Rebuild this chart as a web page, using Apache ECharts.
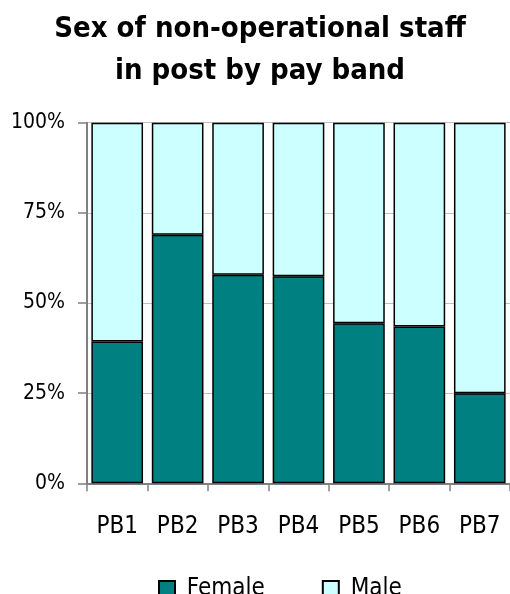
<!DOCTYPE html>
<html><head><meta charset="utf-8">
<script src="https://cdn.jsdelivr.net/npm/echarts@6/dist/echarts.min.js"></script>
<style>html,body{margin:0;padding:0;background:#fff}#c{width:510px;height:594px}</style>
</head><body><div id="c"></div>
<script>
const categories = ['PB1','PB2','PB3','PB4','PB5','PB6','PB7'];
const female = [39.3, 68.9, 57.8, 57.4, 44.4, 43.5, 25.0];
const male = [60.7, 31.1, 42.2, 42.6, 55.6, 56.5, 75.0];
const yTicks = [0, 25, 50, 75, 100];

const font = 'DejaVu Sans Condensed';
const chart = echarts.init(document.getElementById('c'));
chart.setOption({
  animation: false,
  backgroundColor: '#fff',
  title: {
    text: 'Sex of non-operational staff\nin post by pay band',
    left: 260, top: 8, textAlign: 'center', padding: 0,
    textStyle: { fontFamily: font, fontWeight: 'bold', fontSize: 29, lineHeight: 42, color: '#000' }
  },
  legend: {
    top: 577, left: 158, padding: 0, itemWidth: 16, itemHeight: 16, itemGap: 57,
    icon: 'rect',
    formatter: n => ' ' + n,
    textStyle: { fontFamily: font, fontSize: 24, color: '#000' },
    data: ['Female', 'Male']
  },
  grid: { left: 87, top: 122.7, width: 423.5, height: 360.6, containLabel: false },
  xAxis: {
    type: 'category', data: categories, boundaryGap: true,
    axisLine: { lineStyle: { color: '#808080', width: 2 } },
    axisTick: { show: true, length: 8, lineStyle: { color: '#808080', width: 1.5 } },
    axisLabel: { fontFamily: font, fontSize: 24, color: '#000', margin: 31 }
  },
  yAxis: {
    type: 'value', min: 0, max: 100, interval: 25,
    axisLine: { show: true, lineStyle: { color: '#808080', width: 2 } },
    axisTick: { show: true, length: 9, lineStyle: { color: '#808080', width: 1.5 } },
    splitLine: { show: true, lineStyle: { color: '#c0c0c0', width: 1 } },
    axisLabel: { fontFamily: font, fontSize: 21, color: '#000', margin: 22, formatter: v => yTicks.includes(v) ? v + '%' : '' }
  },
  series: [
    { name: 'Female', type: 'bar', stack: 's', data: female, barCategoryGap: '14.5%',
      itemStyle: { color: '#008080', borderColor: '#000', borderWidth: 1.5 } },
    { name: 'Male', type: 'bar', stack: 's', data: male, barCategoryGap: '14.5%',
      itemStyle: { color: '#ccffff', borderColor: '#000', borderWidth: 1.5 } }
  ]
});
</script></body></html>
